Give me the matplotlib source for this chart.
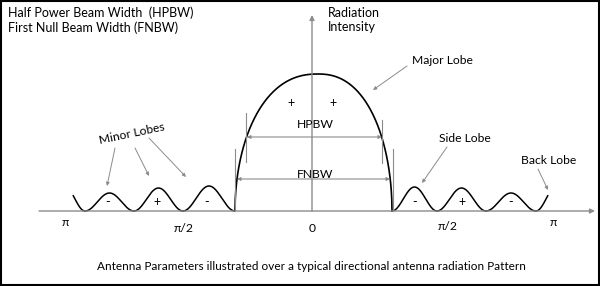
import numpy as np
import matplotlib
matplotlib.use("Agg")
import matplotlib.pyplot as plt
from matplotlib.patches import Rectangle

plt.rcParams['font.family'] = ['Lato', 'DejaVu Sans']

# ---- data (pixel coordinates) ----
axis_y = 211
axis_x0, axis_x1 = 39, 595
vaxis_x, vaxis_top = 312, 15

# main lobe: left null, peak x, right null, peak y
main_left_null = 235
main_peak_x = 318
main_right_null = 392
main_peak_y = 74

# minor lobes: nulls and peak y
left_lobe_nulls = [85, 134, 183, 235]
left_lobe_peaks = [193, 188, 186]
right_lobe_nulls = [392, 437, 486, 536]
right_lobe_peaks = [187, 188, 193]
# partial end lobes: (null a, null b, peak y, clip x)
left_end = (45, 85, 187, 73)
right_end = (536, 576, 187, 548)

lobe_signs_left = ['-', '+', '-']
lobe_signs_right = ['-', '+', '-']

tick_labels = ['π', 'π/2', '0', 'π/2', 'π']
tick_x = [65, 184, 312, 448, 553]
tick_y = [223, 228, 228, 227, 223]

hpbw = (247, 382, 137)
fnbw = (237, 390, 179)

fig = plt.figure(figsize=(6.0, 2.86), dpi=100)
ax = fig.add_axes([0, 0, 1, 1])
ax.set_xlim(0, 600)
ax.set_ylim(286, 0)
ax.axis('off')

gray = '#8c8c8c'
fs = 8.7
fs_head = 9

def lobe(a, b, peak_y, clip=None, side=None):
    x = np.linspace(a, b, 200)
    h = axis_y - peak_y
    y = axis_y - h * np.sin(np.pi * (x - a) / (b - a)) ** 2
    if clip is not None:
        m = x >= clip if side == 'left' else x <= clip
        x, y = x[m], y[m]
    ax.plot(x, y, color='black', lw=1.1, solid_capstyle='round')

# axes
ax.annotate('', xy=(axis_x1, axis_y), xytext=(axis_x0, axis_y),
            arrowprops=dict(arrowstyle='-|>', color=gray, lw=1.0, mutation_scale=7,
                            shrinkA=0, shrinkB=0))
ax.annotate('', xy=(vaxis_x, vaxis_top), xytext=(vaxis_x, axis_y),
            arrowprops=dict(arrowstyle='-|>', color=gray, lw=1.0, mutation_scale=7,
                            shrinkA=0, shrinkB=0))

# main lobe (asymmetric superellipse)
h = axis_y - main_peak_y
u = np.linspace(-1, 1, 600)
xm = np.where(u < 0, main_peak_x + u * (main_peak_x - main_left_null),
              main_peak_x + u * (main_right_null - main_peak_x))
ym = axis_y - h * np.clip(1 - np.abs(u) ** 2.3, 0, None) ** 0.5
ax.plot(xm, ym, color='black', lw=1.2)

# minor lobes
for i in range(3):
    lobe(left_lobe_nulls[i], left_lobe_nulls[i + 1], left_lobe_peaks[i])
    lobe(right_lobe_nulls[i], right_lobe_nulls[i + 1], right_lobe_peaks[i])
lobe(left_end[0], left_end[1], left_end[2], clip=left_end[3], side='left')
lobe(right_end[0], right_end[1], right_end[2], clip=right_end[3], side='right')

# signs
for i, s in enumerate(lobe_signs_left):
    xc = (left_lobe_nulls[i] + left_lobe_nulls[i + 1]) / 2
    ax.text(xc - 2, 202, s, ha='center', va='center', fontsize=9)
for i, s in enumerate(lobe_signs_right):
    xc = (right_lobe_nulls[i] + right_lobe_nulls[i + 1]) / 2
    ax.text(xc, 202, s, ha='center', va='center', fontsize=9)
ax.text(291, 103, '+', ha='center', va='center', fontsize=9)
ax.text(333, 103, '+', ha='center', va='center', fontsize=9)

# beamwidth markers
ax.plot([246, 246], [113, 162], color=gray, lw=0.8)
ax.plot([382, 382], [120, 163], color=gray, lw=0.8)
ax.plot([235, 235], [149, 211], color=gray, lw=0.8)
ax.plot([393, 393], [149, 211], color=gray, lw=0.8)
for (xa, xb, yy), lab, ty in [(hpbw, 'HPBW', 125), (fnbw, 'FNBW', 174)]:
    ax.annotate('', xy=(xb, yy), xytext=(xa, yy),
                arrowprops=dict(arrowstyle='<|-|>', color=gray, lw=0.8,
                                mutation_scale=5, shrinkA=0, shrinkB=0))
    ax.text(315, ty, lab, ha='center', va='center', fontsize=fs)

# tick labels
for t, xx, yy in zip(tick_labels, tick_x, tick_y):
    ax.text(xx, yy, t, ha='center', va='center', fontsize=fs)

# annotations
arrow_kw = dict(arrowstyle='-|>', color=gray, lw=0.7, mutation_scale=5,
                shrinkA=0, shrinkB=0)
ax.text(132, 134, 'Minor Lobes', ha='center', va='center', fontsize=fs,
        rotation=12, rotation_mode='anchor')
for (x0, y0), (x1, y1) in [((115, 148), (107, 186)),
                           ((135, 148), (149, 176)),
                           ((149, 138), (186, 177))]:
    ax.annotate('', xy=(x1, y1), xytext=(x0, y0), arrowprops=arrow_kw)
ax.text(412, 61, 'Major Lobe', ha='left', va='center', fontsize=fs)
ax.annotate('', xy=(373, 90), xytext=(407, 66), arrowprops=arrow_kw)
ax.text(439, 139, 'Side Lobe', ha='left', va='center', fontsize=fs)
ax.annotate('', xy=(422, 183), xytext=(447, 147), arrowprops=arrow_kw)
ax.text(521, 161, 'Back Lobe', ha='left', va='center', fontsize=fs)
ax.annotate('', xy=(548, 190), xytext=(538, 169), arrowprops=arrow_kw)

# header texts
ax.text(8, 13, 'Half Power Beam Width  (HPBW)', ha='left', va='center', fontsize=fs_head)
ax.text(8, 28, 'First Null Beam Width (FNBW)', ha='left', va='center', fontsize=fs_head)
ax.text(328, 13, 'Radiation', ha='left', va='center', fontsize=fs_head)
ax.text(328, 27, 'Intensity', ha='left', va='center', fontsize=fs_head)
ax.text(311, 266, 'Antenna Parameters illustrated over a typical directional antenna radiation Pattern',
        ha='center', va='center', fontsize=8.5)

ax.add_patch(Rectangle((0.75, 0.75), 598.5, 284.5, fill=False, edgecolor='black', lw=1.5))

fig.savefig('out.png', dpi=100)
